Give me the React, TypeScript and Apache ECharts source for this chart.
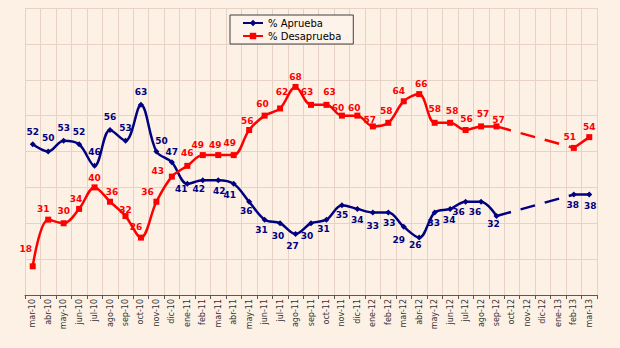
import React, { useEffect, useRef } from "react";
import * as echarts from "echarts";

const categories = [
  "mar-10", "abr-10", "may-10", "jun-10", "jul-10", "ago-10", "sep-10", "oct-10", "nov-10", "dic-10",
  "ene-11", "feb-11", "mar-11", "abr-11", "may-11", "jun-11", "jul-11", "ago-11", "sep-11", "oct-11",
  "nov-11", "dic-11", "ene-12", "feb-12", "mar-12", "abr-12", "may-12", "jun-12", "jul-12", "ago-12",
  "sep-12", "oct-12", "nov-12", "dic-12", "ene-13", "feb-13", "mar-13",
];

const aprueba: (number | null)[] = [
  52, 50, 53, 52, 46, 56, 53, 63, 50, 47,
  41, 42, 42, 41, 36, 31, 30, 27, 30, 31,
  35, 34, 33, 33, 29, 26, 33, 34, 36, 36,
  32, null, null, null, null, 38, 38,
];

const desaprueba: (number | null)[] = [
  18, 31, 30, 34, 40, 36, 32, 26, 36, 43,
  46, 49, 49, 49, 56, 60, 62, 68, 63, 63,
  60, 60, 57, 58, 64, 66, 58, 58, 56, 57,
  57, null, null, null, null, 51, 54,
];

const seriesNames = ["% Aprueba", "% Desaprueba"];

// label placement tweaks (dx, dy) per point, kept separate from data
const aprOffsets: [number, number][] = [
  [0, 0], [0, -1], [0, 0], [0, 0], [0, -1], [0, 0], [0, 0], [0, 0], [5, 2], [0, 2],
  [-6, -7], [-4, -4], [1, -2], [-4, -1], [-3, -3], [-3, -2], [-2, 0], [-3, -1], [-4, 0], [-3, -3],
  [0, -3], [0, -1], [0, 1], [1, -2], [-5, 1], [-4, -5], [-1, -2], [-1, -1], [-7, -2], [-6, -2],
  [-3, -5], [0, 0], [0, 0], [0, 0], [0, 0], [-1, -2], [1, -1],
];
const desOffsets: [number, number][] = [
  [-7, -5], [-5, 2], [0, 0], [-3, 3], [0, 3], [2, 3], [0, 6], [-5, 2], [-9, 3], [-14, 7],
  [0, 0], [-5, 2], [-3, 2], [-4, 0], [-2, 4], [-2, 1], [2, -4], [0, 3], [-4, 0], [3, 0],
  [-4, 5], [-3, 5], [-3, 6], [-2, 1], [-5, 2], [2, 2], [0, -1], [2, 1], [1, 2], [2, 0],
  [2, 6], [0, 0], [0, 0], [0, 0], [0, 0], [-4, 2], [0, 2],
];

const NAVY = "#000080";
const RED = "#ff0000";

export default function App() {
  const ref = useRef<HTMLDivElement>(null);

  useEffect(() => {
    if (!ref.current) return;
    const chart = echarts.init(ref.current, undefined, { renderer: "svg" });

    const lastSolid = 30;
    const firstAfter = 35;
    const bridge = (arr: (number | null)[]) =>
      arr.map((v, i) => (i === lastSolid || i === firstAfter ? v : null));

    const aprData = aprueba.map((v, i) => {
      const above = i <= 9;
      const [dx, dy] = aprOffsets[i];
      return {
        value: v,
        label: {
          position: above ? "top" : "bottom",
          offset: [dx, dy + (above ? -2 : 2)],
        },
      };
    });
    const desData = desaprueba.map((v, i) => {
      const [dx, dy] = desOffsets[i];
      return {
        value: v,
        label: { position: "top", offset: [dx, dy - 2] },
      };
    });

    const labelStyle = (color: string) => ({
      show: true,
      color,
      fontFamily: "DejaVu Sans",
      fontWeight: "bold",
      fontSize: 9,
      distance: 3,
    });

    chart.setOption({
      animation: false,
      backgroundColor: "#fdf1e5",
      grid: { left: 25, right: 23, top: 8, bottom: 53, containLabel: false },
      legend: {
        data: seriesNames,
        orient: "vertical",
        left: 230,
        top: 15,
        padding: [3, 12, 3, 12],
        itemGap: 3,
        itemWidth: 20,
        itemHeight: 8,
        borderColor: "#404040",
        borderWidth: 1,
        backgroundColor: "#fdf3ea",
        textStyle: { fontFamily: "DejaVu Sans", fontSize: 10, color: "#000" },
      },
      xAxis: {
        type: "category",
        data: categories,
        boundaryGap: true,
        axisLine: { lineStyle: { color: "#595959", width: 1 } },
        axisTick: { show: true, length: 4, lineStyle: { color: "#595959" } },
        axisLabel: {
          rotate: 90,
          interval: 0,
          margin: 4,
          fontFamily: "DejaVu Sans",
          fontSize: 8,
          color: "#333",
        },
        splitLine: { show: true, lineStyle: { color: "#e6d3c6", width: 1 } },
      },
      yAxis: {
        type: "value",
        min: 10,
        max: 90,
        interval: 10,
        axisLine: { show: false },
        axisTick: { show: false },
        axisLabel: { show: false },
        splitLine: { show: true, lineStyle: { color: "#e6d3c6", width: 1 } },
      },
      series: [
        {
          name: seriesNames[0],
          type: "line",
          data: aprData,
          smooth: 0.35,
          connectNulls: false,
          symbol: "diamond",
          symbolSize: 6,
          lineStyle: { color: NAVY, width: 2.5 },
          itemStyle: { color: NAVY },
          label: labelStyle(NAVY),
          z: 3,
        },
        {
          name: seriesNames[1],
          type: "line",
          data: desData,
          smooth: 0.35,
          connectNulls: false,
          symbol: "rect",
          symbolSize: 6,
          lineStyle: { color: RED, width: 2.5 },
          itemStyle: { color: RED },
          label: labelStyle(RED),
          z: 4,
        },
        {
          name: "aprueba-bridge",
          type: "line",
          data: bridge(aprueba),
          connectNulls: true,
          showSymbol: false,
          symbol: "none",
          lineStyle: { color: NAVY, width: 2.5, type: [15, 10] },
          itemStyle: { color: NAVY },
          silent: true,
          z: 2,
        },
        {
          name: "desaprueba-bridge",
          type: "line",
          data: bridge(desaprueba),
          connectNulls: true,
          showSymbol: false,
          symbol: "none",
          lineStyle: { color: RED, width: 2.5, type: [15, 10] },
          itemStyle: { color: RED },
          silent: true,
          z: 2,
        },
      ],
    });

    return () => chart.dispose();
  }, []);

  return (
    <div
      ref={ref}
      style={{ position: "fixed", left: 0, top: 0, width: 620, height: 348 }}
    />
  );
}
